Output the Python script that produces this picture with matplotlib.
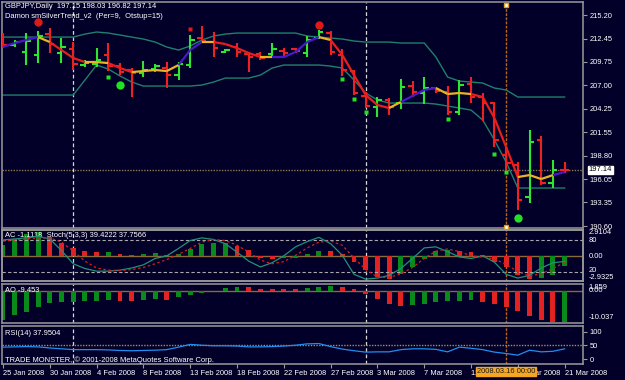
import matplotlib
matplotlib.use('Agg')
import numpy as np
import matplotlib.pyplot as plt
from matplotlib.collections import LineCollection
from matplotlib import transforms

plt.rcParams['font.family'] = ['Liberation Sans', 'DejaVu Sans']

# ---- data ----
date_labels = ['25 Jan 2008', '30 Jan 2008', '4 Feb 2008', '8 Feb 2008', '13 Feb 2008',
               '18 Feb 2008', '22 Feb 2008', '27 Feb 2008', '3 Mar 2008', '7 Mar 2008',
               '12 Mar 2008', '17 Mar 2008', '21 Mar 2008']
date_ticks = [0, 4, 8, 12, 16, 20, 24, 28, 32, 36, 40, 44, 48]
month_starts = [6, 31]
marker_bar = 43
marker_label = '2008.03.16 00:00'

opens = [212.63, 211.70, 210.89, 210.54, 212.98, 210.77, 211.24, 209.37, 209.49, 210.54,
         209.25, 208.79, 208.44, 208.90, 209.02, 208.20, 209.37, 212.52, 212.05, 210.89,
         211.47, 210.65, 210.65, 210.65, 211.00, 211.24, 210.77, 212.52, 213.10, 210.54,
         208.67, 205.76, 204.47, 205.29, 204.94, 206.92, 206.11, 206.69, 206.22, 203.89,
         207.15, 205.64, 204.94, 198.88, 197.71, 193.98, 200.63, 195.61, 197.15]
highs = [213.10, 212.29, 213.10, 213.33, 213.68, 212.52, 212.05, 209.95, 211.35, 211.94,
         209.60, 209.02, 209.84, 209.49, 209.72, 209.72, 212.87, 213.92, 213.22, 211.24,
         211.94, 210.89, 210.89, 211.94, 211.35, 211.35, 212.75, 213.45, 213.33, 211.24,
         208.79, 206.22, 205.64, 205.52, 207.74, 207.50, 207.97, 206.80, 206.92, 207.62,
         207.97, 206.11, 205.06, 199.81, 198.06, 201.79, 201.09, 198.29, 198.03]
lows = [211.35, 211.47, 209.37, 209.60, 210.77, 209.60, 208.79, 209.14, 209.14, 208.67,
        208.20, 205.64, 207.97, 208.55, 206.69, 207.62, 209.02, 211.94, 210.30, 210.77,
        210.30, 208.55, 209.95, 210.42, 210.30, 210.77, 210.30, 212.40, 210.54, 208.09,
        205.87, 204.36, 203.31, 203.54, 204.24, 205.64, 204.82, 206.11, 203.54, 203.54,
        204.94, 202.84, 199.81, 196.89, 192.46, 193.28, 195.38, 195.03, 196.82]
closes = [211.70, 212.05, 212.17, 212.75, 211.82, 211.47, 209.49, 209.60, 209.95, 209.25,
          208.55, 208.44, 208.79, 209.25, 208.20, 209.49, 212.29, 212.17, 211.35, 211.12,
          210.89, 210.30, 210.19, 211.24, 210.77, 211.00, 212.29, 213.22, 210.89, 208.79,
          206.11, 204.59, 205.29, 204.47, 206.80, 206.22, 206.69, 206.34, 203.89, 207.04,
          205.64, 204.94, 200.63, 197.94, 193.63, 200.39, 195.61, 197.13, 197.14]

trend = [211.47, 211.94, 212.29, 212.63, 212.05, 211.12, 210.19, 209.72, 209.72, 209.60,
         209.02, 208.55, 208.67, 208.79, 208.67, 209.37, 211.12, 212.05, 212.05, 211.82,
         211.35, 210.77, 210.30, 210.30, 210.30, 210.89, 212.05, 212.63, 212.29, 210.54,
         208.20, 205.87, 204.71, 204.36, 205.06, 205.76, 206.46, 206.69, 205.99, 206.11,
         205.99, 205.64, 203.19, 199.81, 196.31, 196.54, 196.08, 196.54, 196.89]
trend_state = 'bbbyrrryyrryyyybbyrrrrybbbbyrrrrrybbbyyyrrrryyyb'

band_upper = [212.63, 212.63, 212.63, 212.63, 212.63, 212.63, 212.63, 212.98, 213.22, 213.10,
              212.87, 212.63, 212.40, 212.05, 211.47, 211.12, 211.59, 212.29, 212.75, 212.98,
              213.10, 213.10, 213.10, 213.10, 213.10, 213.10, 212.75, 212.63, 212.52, 212.40,
              212.17, 212.05, 212.05, 212.05, 211.94, 211.94, 211.94, 210.30, 207.97, 207.50,
              207.39, 207.27, 206.69, 206.46, 205.64, 205.64, 205.64, 205.64, 205.64]
band_lower = [205.87, 205.87, 205.87, 205.87, 205.87, 205.87, 205.87, 207.62, 209.37, 208.90,
              208.09, 207.39, 206.92, 206.92, 206.92, 206.92, 206.92, 207.04, 207.39, 207.85,
              207.85, 207.85, 208.20, 209.02, 209.37, 209.37, 209.37, 209.37, 209.25, 209.02,
              207.62, 206.11, 205.29, 204.94, 204.94, 204.94, 204.94, 204.82, 204.59, 204.36,
              204.12, 202.96, 200.63, 198.06, 195.03, 195.03, 195.03, 195.03, 195.03]

red_big_x, red_big_y = [3, 27], [214.38, 214.03]
red_small_x, red_small_y = [16], [213.57]
green_big_x, green_big_y = [10, 44], [207.04, 191.53]
green_small_x = [9, 29, 30, 31, 38, 42, 43]
green_small_y = [207.97, 207.74, 205.41, 203.89, 203.07, 198.99, 196.89]

price_ticks = [215.20, 212.45, 209.75, 207.00, 204.25, 201.55, 198.80, 196.05, 193.35, 190.60]
last_price = 197.14

ac = [1.17, 1.82, 2.33, 2.55, 2.07, 1.35, 0.87, 0.51, 0.37, 0.42,
      0.15, 0.05, 0.15, 0.25, 0.12, 0.22, 0.73, 1.24, 1.33, 1.38,
      1.10, 0.58, -0.29, -0.36, -0.30, -0.20, 0.15, 0.55, 0.50, 0.15,
      -0.65, -1.56, -2.29, -2.58, -2.03, -1.20, -0.36, 0.51, 0.62, 0.50,
      0.37, 0.05, -0.65, -1.20, -2.10, -2.58, -2.40, -2.10, -1.11]
stoch_main = [80, 82, 84, 87, 82, 60, 35, 26, 21, 21, 23, 27, 33, 45, 50, 64, 79, 84, 81, 73,
              57, 40, 29, 37, 50, 67, 77, 85, 73, 51, 15, 6, 8, 13, 26, 45, 65, 67, 58, 48,
              45, 50, 38, 15, 8, 13, 27, 37, 39.42]
stoch_signal = [78, 80, 82, 84, 84, 76, 59, 40, 27, 23, 22, 24, 28, 35, 43, 53, 64, 76, 81, 79,
                70, 57, 42, 35, 39, 51, 65, 76, 78, 70, 46, 24, 10, 9, 16, 28, 45, 59, 63, 58,
                50, 48, 44, 34, 20, 12, 16, 26, 37.76]
ao = [-8.7, -7.2, -6.4, -4.8, -3.8, -3.5, -3.3, -3.1, -3.0, -2.9,
      -3.0, -3.1, -2.8, -2.5, -2.8, -1.8, -1.3, -0.8, -0.1, 0.7,
      1.2, 1.1, 0.55, 0.5, 0.45, 0.4, 0.7, 1.2, 1.4, 1.2,
      0.5, -1.1, -2.5, -4.0, -4.5, -4.3, -4.1, -3.5, -3.1, -3.0,
      -2.9, -3.5, -4.1, -4.8, -6.2, -7.7, -8.7, -9.5, -9.45]
rsi = [44, 45, 46, 45, 41, 38, 35, 35, 35, 34, 32, 31, 32, 33, 35, 44, 54, 51, 49, 49,
       48, 45, 45, 46, 48, 51, 56, 57, 46, 37, 31, 26, 27, 27, 35, 38, 38, 36, 27, 44,
       40, 35, 26, 21, 15, 33, 27, 29, 37.95]

# ---- style ----
BG = '#020028'
EDGE = '#9a9a9a'
BULL, BEAR = '#2ee62e', '#ee2020'
HIST_UP, HIST_DN = '#0b8a1c', '#e32222'
TREND_COLORS = {'b': '#4a18c8', 'y': '#e8b424', 'r': '#e81e1e'}
BAND = '#1f7f6c'
FS = 5.4
XLIM = (-0.085, 49.57)

W, H = 625.0, 380.0


def box(top, bottom):
    """ axes rect from pixel rows """
    return [2 / W, 1 - bottom / H, 581 / W, (bottom - top) / H]


fig = plt.figure(figsize=(6.25, 3.8), dpi=100, facecolor=BG)
ax = fig.add_axes(box(2, 228))
ax_ac = fig.add_axes(box(230, 281))
ax_st = ax_ac.twinx()
ax_ao = fig.add_axes(box(284, 323))
ax_rsi = fig.add_axes(box(326, 364))

for a in (ax, ax_ac, ax_st, ax_ao, ax_rsi):
    a.set_facecolor(BG)
    for s in a.spines.values():
        s.set_color(EDGE)
        s.set_linewidth(1.1)
    a.tick_params(colors=EDGE, labelcolor='white', labelsize=FS, length=3, width=0.8, pad=1.5)
    a.yaxis.tick_right()
    a.set_xlim(*XLIM)
    a.set_xticks([])
ax_st.patch.set_visible(False)

idx = np.arange(len(opens))
o, h, l, c = map(np.array, (opens, highs, lows, closes))

# ---- main price panel ----
ax.set_ylim(190.37, 216.72)
ax.set_yticks(price_ticks)
ax.set_yticklabels(['%.2f' % p for p in price_ticks])

ax.plot(idx, band_upper, color=BAND, lw=1.0, zorder=2)
ax.plot(idx, band_lower, color=BAND, lw=1.0, zorder=2)

up = c >= o
for colr, m in ((BULL, up), (BEAR, ~up)):
    ax.vlines(idx[m], l[m], h[m], color=colr, lw=1.5, zorder=3)
    ax.hlines(o[m], idx[m] - 0.38, idx[m], color=colr, lw=1.5, zorder=3)
    ax.hlines(c[m], idx[m], idx[m] + 0.38, color=colr, lw=1.5, zorder=3)

pts = np.column_stack([idx, trend])
segs = [pts[i - 1:i + 1] for i in range(1, len(pts))]
ax.add_collection(LineCollection(segs, colors=[TREND_COLORS[k] for k in trend_state],
                                 linewidths=1.6, zorder=4))

ax.plot(red_big_x, red_big_y, 'o', color='#e01818', ms=6, mec='none', zorder=5)
ax.plot(red_small_x, red_small_y, 's', color='#e01818', ms=2.2, mec='none', zorder=5)
ax.plot(green_big_x, green_big_y, 'o', color='#22e022', ms=6, mec='none', zorder=5)
ax.plot(green_small_x, green_small_y, 's', color='#22e022', ms=2.2, mec='none', zorder=5)

ax.axhline(last_price, color='#8c7a52', lw=1.0, ls=(0, (1, 1)), zorder=1)
ax.text(1.01, last_price, '%.2f' % last_price, transform=ax.get_yaxis_transform(),
        fontsize=FS, color='black', va='center', ha='left',
        bbox=dict(boxstyle='square,pad=0.12', fc='white', ec='white'))

ax.text(0.005, 0.995, 'GBPJPY,Daily  197.15 198.03 196.82 197.14', transform=ax.transAxes,
        color='white', fontsize=FS, va='top', ha='left')
ax.text(0.005, 0.95, 'Damon smSilverTrend_v2  (Per=9,  Otstup=15)', transform=ax.transAxes,
        color='white', fontsize=FS, va='top', ha='left')

# ---- AC + Stochastic ----
ac_arr = np.array(ac)
ac_up = np.r_[True, np.diff(ac_arr) >= 0]
ax_ac.bar(idx, ac_arr, width=0.42, color=np.where(ac_up, HIST_UP, HIST_DN), zorder=2)
ax_ac.set_ylim(-2.76, 2.80)
ax_ac.set_yticks([])
ax_ac.axhline(0, color='#8a6a3a', lw=1.0, zorder=1)
ax_st.set_ylim(2.4, 98.9)
ax_st.set_yticks([])
ax_st.axhline(80, color='#a8a8a8', lw=0.8, ls=(0, (3, 2)))
ax_st.axhline(20, color='#a8a8a8', lw=0.8, ls=(0, (3, 2)))
ax_st.plot(idx, stoch_main, color='#22907a', lw=0.9, zorder=3)
ax_st.plot(idx, stoch_signal, color='#d02020', lw=0.9, ls=(0, (2, 2)), zorder=3)
for txt, yf in (('2.9104', 0.95), ('80', 0.80), ('0.00', 0.49), ('20', 0.20), ('-2.9325', 0.07)):
    ax_ac.text(1.01, yf, txt, transform=ax_ac.transAxes, fontsize=FS, color='white',
               va='center', ha='left')
ax_ac.text(0.006, 0.96, 'AC -1.1118  Stoch(5,3,3) 39.4222 37.7566', transform=ax_ac.transAxes,
           color='white', fontsize=FS, va='top', ha='left', zorder=6)

# ---- AO ----
ao_arr = np.array(ao)
ao_up = np.r_[True, np.diff(ao_arr) >= 0]
ax_ao.bar(idx, ao_arr, width=0.42, color=np.where(ao_up, HIST_UP, HIST_DN), zorder=2)
ax_ao.set_ylim(-9.65, 2.0)
ax_ao.set_yticks([])
ax_ao.axhline(0, color='#8a6a3a', lw=1.0, zorder=1)
for txt, yf in (('1.859', 0.92), ('0.00', 0.84), ('-10.037', 0.13)):
    ax_ao.text(1.01, yf, txt, transform=ax_ao.transAxes, fontsize=FS, color='white',
               va='center', ha='left')
ax_ao.text(0.006, 0.93, 'AO -9.453', transform=ax_ao.transAxes,
           color='white', fontsize=FS, va='top', ha='left', zorder=6)

# ---- RSI ----
ax_rsi.set_ylim(-17, 120.6)
ax_rsi.set_yticks([0, 50, 100])
ax_rsi.set_yticklabels(['0', '50', '100'])
ax_rsi.axhline(50, color='#a09060', lw=1.0, ls=(0, (1, 1)))
ax_rsi.plot(idx, rsi, color='#1e8ff0', lw=0.9, zorder=3)
ax_rsi.text(0.006, 0.9, 'RSI(14) 37.9504', transform=ax_rsi.transAxes,
            color='white', fontsize=FS, va='top', ha='left')
ax_rsi.text(0.006, 0.01, 'TRADE MONSTER, \u00a9 2001-2008 MetaQuotes Software Corp.',
            transform=ax_rsi.transAxes, color='white', fontsize=FS, va='bottom', ha='left')

ax_rsi.set_xticks(date_ticks)
ax_rsi.set_xticklabels(date_labels)
ax_rsi.tick_params(axis='x', bottom=True, direction='out', length=3, pad=1.5)
for lab in ax_rsi.get_xticklabels():
    lab.set_ha('left')

# ---- separators / vertical line object ----
for a in (ax, ax_ac, ax_ao, ax_rsi):
    for b in month_starts:
        a.axvline(b, color='#d8d8d8', lw=0.9, ls=(0, (3, 2)), zorder=1)
    a.axvline(marker_bar, color='#b8661a', lw=1.0, ls=(0, (2, 1)), zorder=1)
ax.plot([marker_bar, marker_bar], [0.985, 0.005], 's', ms=3.5, mfc='white', mec='#e0a020',
        transform=transforms.blended_transform_factory(ax.transData, ax.transAxes),
        clip_on=False, zorder=7)
ax_rsi.text(marker_bar, -0.2, marker_label,
            transform=transforms.blended_transform_factory(ax_rsi.transData, ax_rsi.transAxes),
            fontsize=FS, color='#1a1a1a', ha='center', va='center', zorder=8,
            bbox=dict(boxstyle='square,pad=0.15', fc='#f5a623', ec='#f5a623'))

fig.savefig('out.png', dpi=100, facecolor=BG)
